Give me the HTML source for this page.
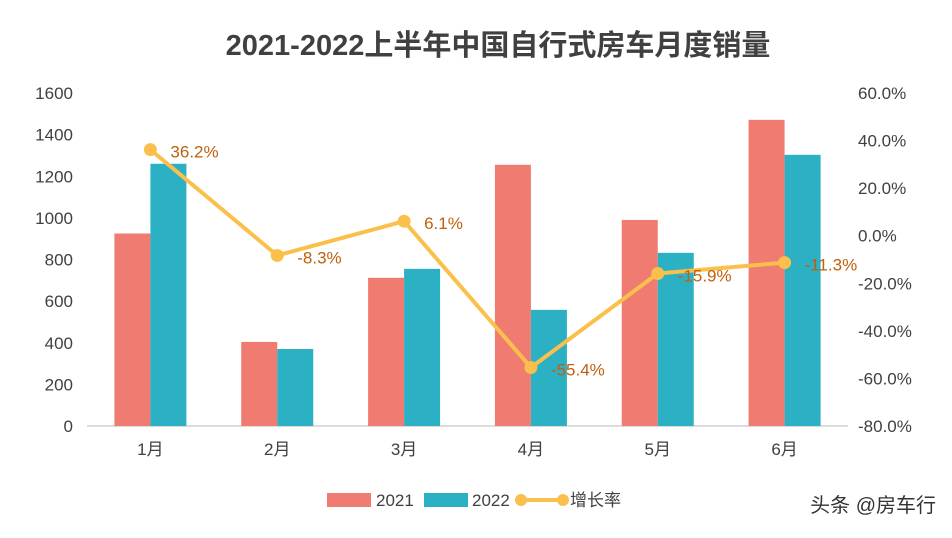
<!DOCTYPE html>
<html><head><meta charset="utf-8"><style>
body{margin:0;background:#fff;}
svg text{font-family:"Liberation Sans","Noto Sans CJK SC",sans-serif;}
</style></head><body>
<svg id="chart" width="952" height="533" viewBox="0 0 952 533" xmlns="http://www.w3.org/2000/svg">
<text x="498" y="55" text-anchor="middle" font-size="29" font-weight="bold" fill="#404040">2021-2022上半年中国自行式房车月度销量</text>
<g id="axes"></g><g id="bars"></g><g id="line"></g>
<g>
<rect x="327" y="493" width="44" height="14" fill="#f07b71"/>
<text x="376" y="506" font-size="17" fill="#404040">2021</text>
<rect x="424" y="493" width="44" height="14" fill="#2bb0c4"/>
<text x="472" y="506" font-size="17" fill="#404040">2022</text>
<line x1="518" y1="500" x2="566" y2="500" stroke="#fbbf4c" stroke-width="4"/>
<circle cx="521" cy="500" r="6" fill="#fbbf4c"/>
<circle cx="563" cy="500" r="6" fill="#fbbf4c"/>
<text x="570" y="506" font-size="17" fill="#404040">增长率</text>
</g>
<text x="936" y="512" text-anchor="end" font-size="20" fill="#333">头条 @房车行</text>
</svg>
<script>
const categories=["1月","2月","3月","4月","5月","6月"];
const sales2021=[925,404,712,1255,990,1471];
const sales2022=[1260,370,755,558,832,1303];
const growth=[36.2,-8.3,6.1,-55.4,-15.9,-11.3];
const leftTicks=[0,200,400,600,800,1000,1200,1400,1600];
const rightTicks=[60,40,20,0,-20,-40,-60,-80];
const NS="http://www.w3.org/2000/svg";
const X0=87,X1=848,YT=93,YB=426;
const band=(X1-X0)/categories.length;
const xc=i=>X0+band*(i+0.5);
const yL=v=>YB-(v/1600)*(YB-YT);
const yR=v=>YB-((v+80)/140)*(YB-YT);
function mk(tag,attrs,parent,txt){const e=document.createElementNS(NS,tag);for(const k in attrs)e.setAttribute(k,attrs[k]);if(txt!==undefined)e.textContent=txt;parent.appendChild(e);return e;}
const axes=document.getElementById('axes'),bars=document.getElementById('bars'),line=document.getElementById('line');
let e=mk('line',{x1:X0,x2:X1,y1:YB,y2:YB,stroke:'#d0d0d0','stroke-width':1.5},axes);


leftTicks.forEach(t=>{const el=mk('text',{x:73,y:yL(t)+6,'text-anchor':'end','font-size':17,fill:'#404040'},axes,String(t));

});
rightTicks.forEach(t=>{const el=mk('text',{x:858,y:yR(t)+6,'font-size':17,fill:'#404040'},axes,t.toFixed(1)+'%');

});
categories.forEach((c,i)=>{const el=mk('text',{x:xc(i),y:455,'text-anchor':'middle','font-size':17,fill:'#404040'},axes,c);

});
const bw=36;
categories.forEach((c,i)=>{
 let b=mk('rect',{x:xc(i)-bw,y:yL(sales2021[i]),width:bw,height:YB-yL(sales2021[i]),fill:'#f07b71'},bars);
 
 
 b=mk('rect',{x:xc(i),y:yL(sales2022[i]),width:bw,height:YB-yL(sales2022[i]),fill:'#2bb0c4'},bars);
 
 
});
const pts=growth.map((g,i)=>xc(i)+','+yR(g)).join(' ');
e=mk('polyline',{points:pts,fill:'none',stroke:'#fbbf4c','stroke-width':4,'stroke-linejoin':'round'},line);


growth.forEach((g,i)=>{
 let p=mk('circle',{cx:xc(i),cy:yR(g),r:6.5,fill:'#fbbf4c'},line);
 
 
 let t=mk('text',{x:xc(i)+20,y:yR(g)+8,'font-size':17,fill:'#c0600c'},line,g.toFixed(1)+'%');
 
 
});
</script>
</body></html>
